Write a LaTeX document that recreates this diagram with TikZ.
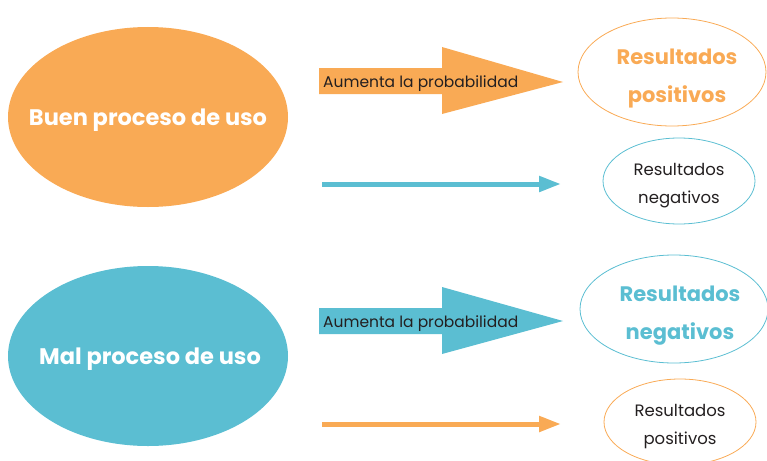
\documentclass[tikz,border=0pt]{standalone}
\usepackage{fontspec}
\setmainfont{Poppins}
\usetikzlibrary{arrows.meta,shapes.geometric}
\definecolor{naranja}{RGB}{249,170,85}
\definecolor{azul}{RGB}{91,190,210}
\definecolor{texto}{RGB}{35,31,32}
\tikzset{
  bigell/.style={ellipse, minimum width=280pt, minimum height=180pt, inner sep=0pt},
  bigtext/.style={text=white, font=\fontsize{22.5}{26}\selectfont\bfseries},
  resbig/.style={ellipse, draw, line width=0.8pt, minimum width=188pt, minimum height=108pt, inner sep=0pt},
  resbigtext/.style={align=center, font=\fontsize{21}{38}\selectfont\bfseries},
  ressmall/.style={ellipse, draw, line width=0.8pt, minimum width=152pt, minimum height=86pt, inner sep=0pt},
  ressmalltext/.style={align=center, text=texto, font=\fontsize{16.5}{28}\selectfont},
  arrlabel/.style={anchor=west, inner sep=0pt, text=texto, font=\fontsize{15.5}{17}\selectfont},
  thinarrow/.style={line width=5pt, -{Triangle[length=22pt,width=15pt]}},
}
\begin{document}
\begin{tikzpicture}[x=1pt,y=-1pt]
\useasboundingbox (0,0) rectangle (767,460);
% left ellipses
\node[bigell, fill=naranja] (buen) at (148,117) {};
\node[bigtext] (buent) at (148,120) {Buen proceso de uso};
\node[bigell, fill=azul] (mal) at (148,356) {};
\node[bigtext] (malt) at (150,359) {Mal proceso de uso};
% right ellipses
\node[resbig, draw=naranja] (rpos1) at (672,72) {};
\node[resbigtext, text=naranja] (rpos1t) at (677,79) {Resultados\\positivos};
\node[ressmall, draw=azul] (rneg1) at (679,181) {};
\node[ressmalltext] (rneg1t) at (679,186) {Resultados\\negativos};
\node[resbig, draw=azul] (rneg2) at (674,309) {};
\node[resbigtext, text=azul] (rneg2t) at (680,316) {Resultados\\negativos};
\node[ressmall, draw=naranja] (rpos2) at (680,422) {};
\node[ressmalltext] (rpos2t) at (680,427) {Resultados\\positivos};
% big arrow 1
\fill[naranja] (319,68) -- (442,68) -- (442,47) -- (563,82) -- (442,114) -- (442,94) -- (319,94) -- cycle;
\node[arrlabel] (lab1) at (323,84) {Aumenta la probabilidad};
% big arrow 2
\fill[azul] (319,308) -- (442,308) -- (442,287) -- (563,321) -- (442,354) -- (442,334) -- (319,334) -- cycle;
\node[arrlabel] (lab2) at (323,324) {Aumenta la probabilidad};
% thin arrows
\coordinate (t1s) at (322,184);
\coordinate (t1e) at (561,184);
\coordinate (t2s) at (322,424);
\coordinate (t2e) at (561,424);
\draw[thinarrow, azul] (t1s) -- (t1e);
\draw[thinarrow, naranja] (t2s) -- (t2e);
\end{tikzpicture}
\end{document}
